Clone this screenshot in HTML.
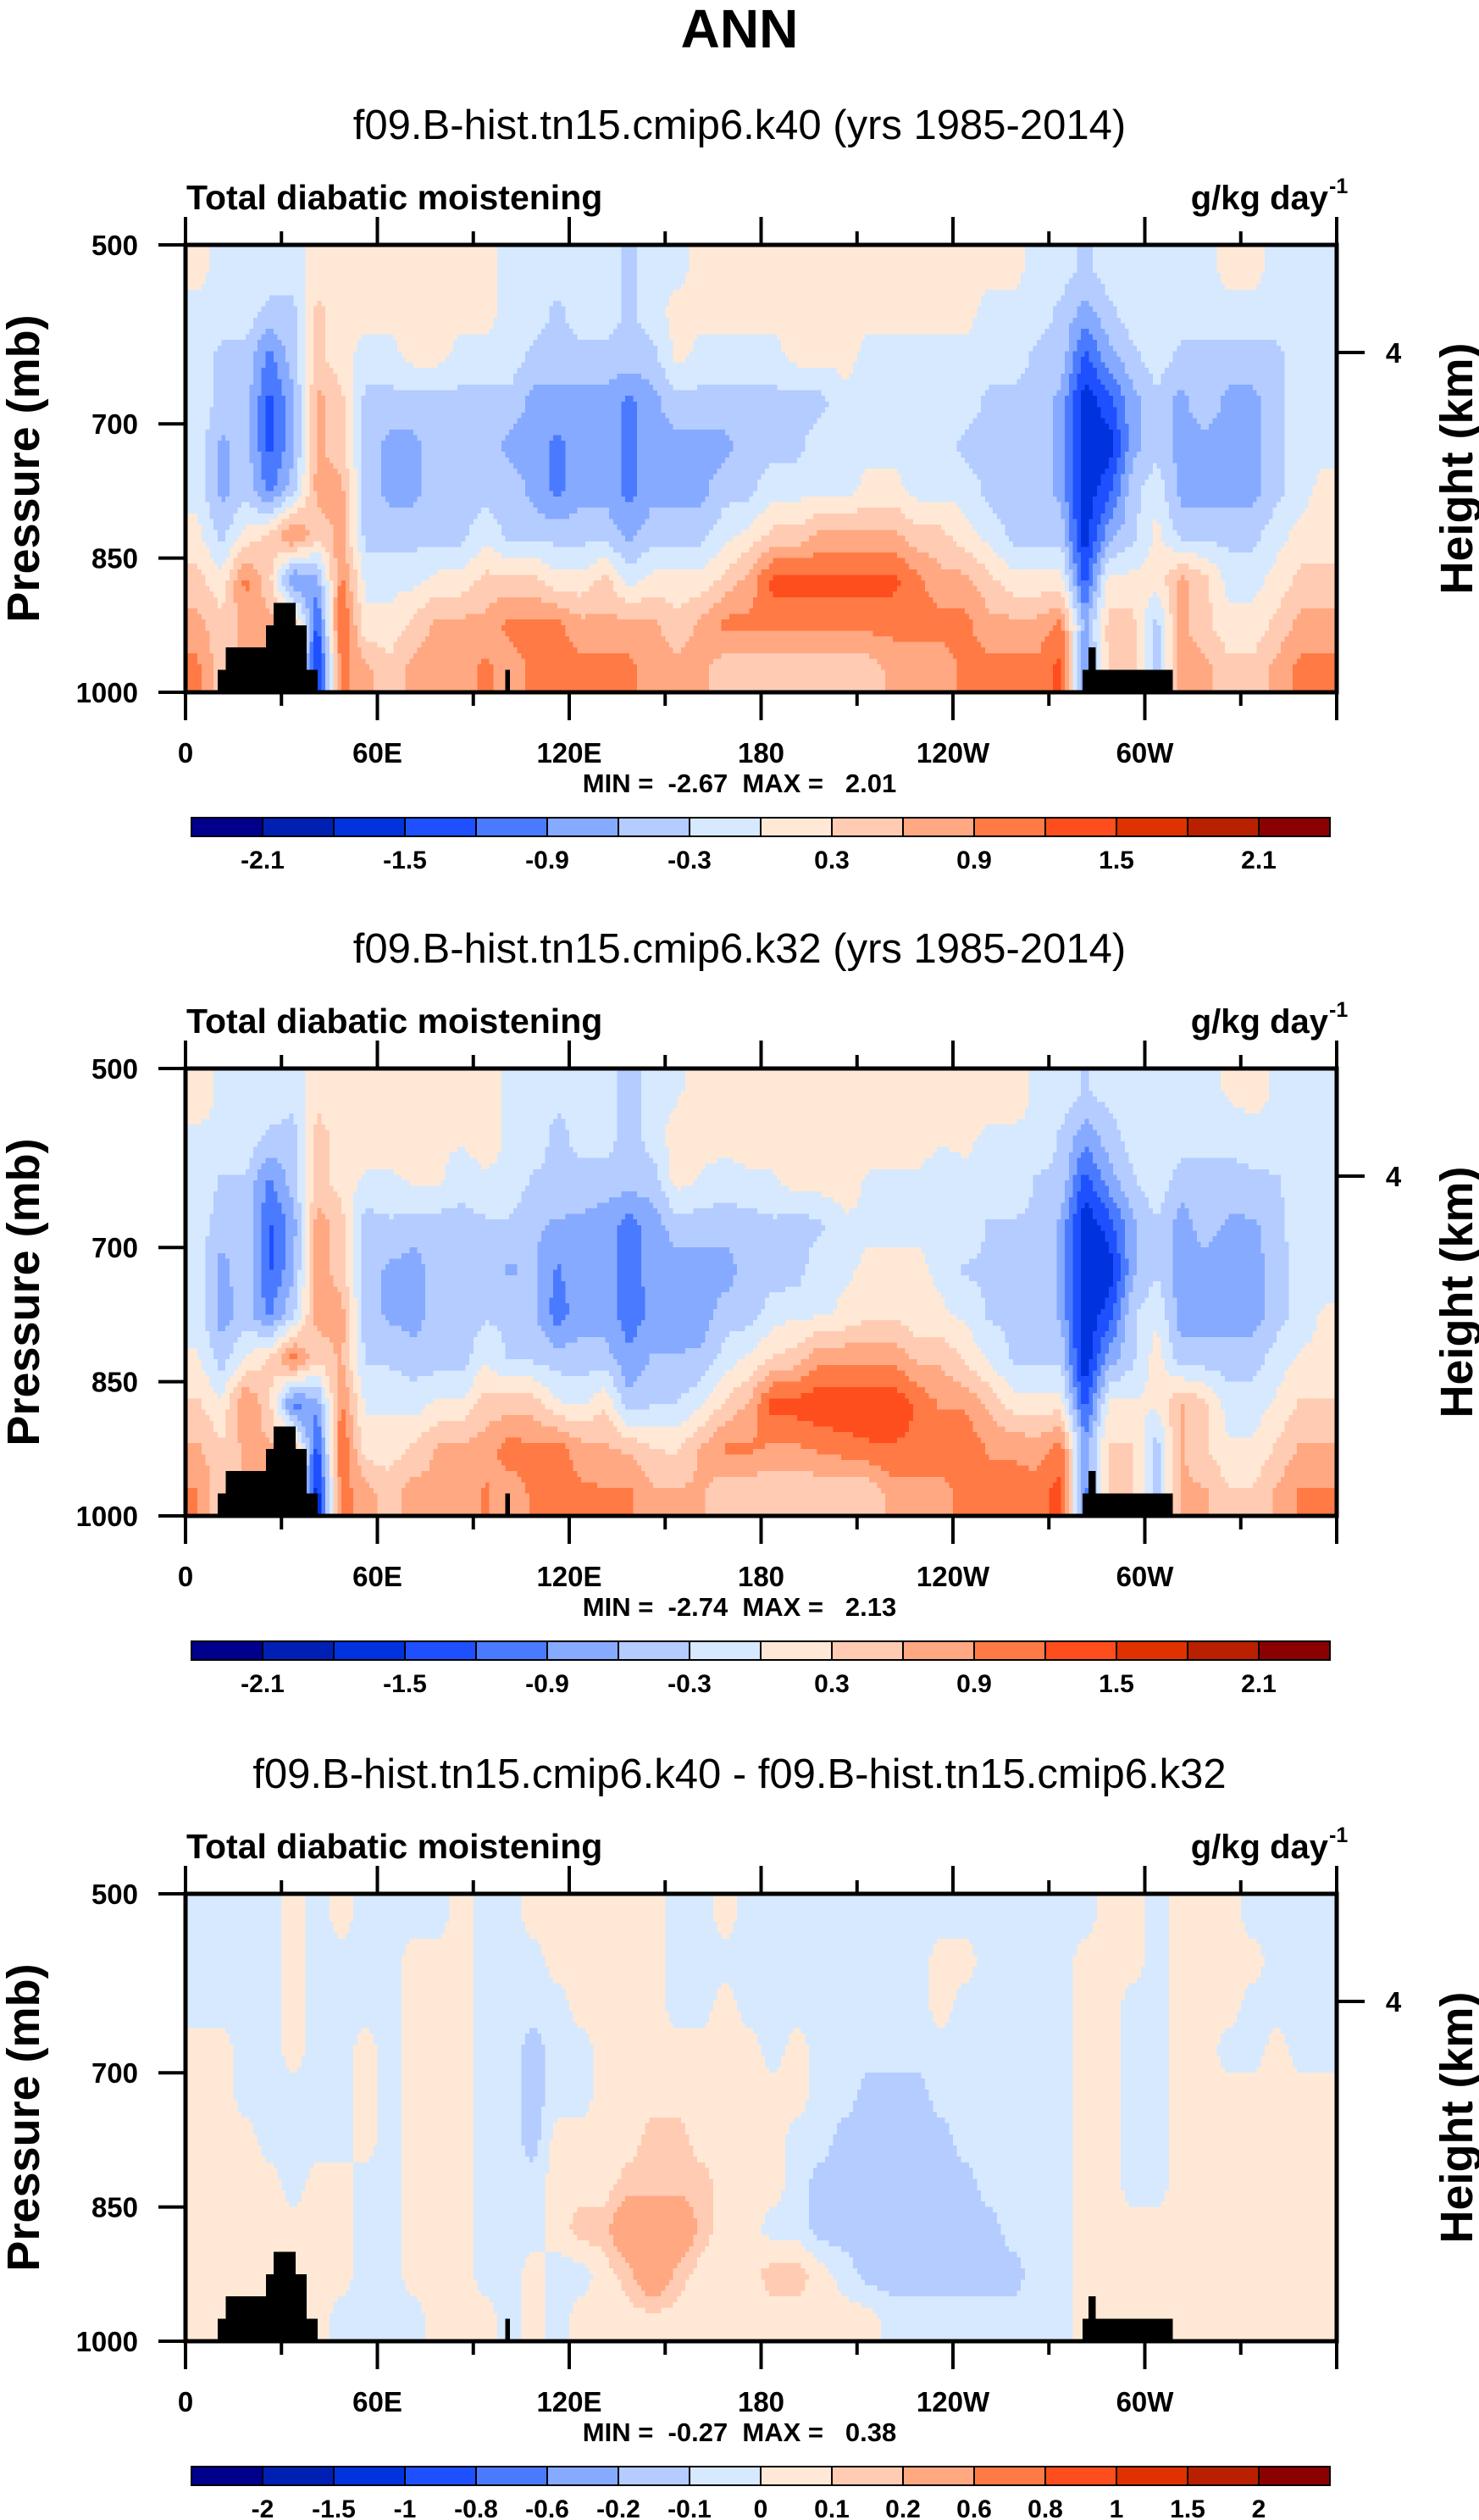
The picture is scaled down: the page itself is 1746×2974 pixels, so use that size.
<!DOCTYPE html>
<html>
<head>
<meta charset="utf-8">
<style>
html,body{margin:0;padding:0;background:#fff;}
svg{display:block;}
text{font-family:"Liberation Sans",sans-serif;white-space:pre;}
</style>
</head>
<body>
<svg id="fig" xmlns="http://www.w3.org/2000/svg" width="1746" height="2974" viewBox="0 0 1746 2974">
<text x="873" y="56" text-anchor="middle" font-size="64" font-weight="bold">ANN</text>
</svg>
<script>
// ---- data ----
const lonEdges = [0,7.5,15,22.5,30,37.5,45,52.5,60,67.5,75,82.5,90,97.5,105,112.5,120,127.5,135,142.5,150,157.5,165,172.5,180,187.5,195,202.5,210,217.5,225,232.5,240,247.5,255,262.5,270,277.5,285,292.5,300,307.5,315,322.5,330,337.5,345,352.5,360];
const presEdges = [500,550,600,650,700,750,800,850,900,950,1000];
// k40 field, one array per longitude column, top (500mb) to bottom (1000mb)
const k40Cols = [
[0.1,-0.1,-0.1,-0.1,-0.1,-0.1,0.1,0.4,0.7,1.0],
[-0.1,-0.1,-0.4,-0.4,-0.7,-0.7,-0.4,0.1,0.4,0.4],
[-0.1,-0.1,-0.4,-0.4,-0.4,-0.4,0.1,1.0,0.7,0.7],
[-0.1,-0.4,-1.0,-1.3,-1.3,-1.0,0.4,0.4,0.7,0.7],
[-0.1,-0.4,-0.4,-0.7,-0.7,-0.4,1.0,-1.0,0.7,0.7],
[0.1,0.4,0.4,0.7,0.7,0.7,0.4,-0.7,-1.3,-1.7],
[0.1,0.1,0.1,0.4,0.4,0.7,0.7,1.0,1.3,1.0],
[0.1,0.1,-0.1,-0.4,-0.4,-0.4,-0.4,-0.1,0.1,0.7],
[0.1,0.1,-0.1,-0.4,-0.7,-0.7,-0.4,-0.1,0.1,0.4],
[0.1,0.1,0.1,-0.4,-0.7,-0.7,-0.4,-0.1,0.4,0.7],
[0.1,0.1,0.1,-0.4,-0.4,-0.4,-0.4,0.1,0.7,0.7],
[0.1,0.1,-0.1,-0.4,-0.4,-0.4,-0.4,0.1,0.7,0.7],
[0.1,0.1,-0.1,-0.4,-0.4,-0.4,-0.1,0.4,0.7,1.0],
[-0.1,-0.1,-0.1,-0.4,-0.7,-0.4,-0.4,0.4,1.0,0.7],
[-0.1,-0.1,-0.4,-0.7,-0.7,-0.7,-0.4,0.4,1.0,1.0],
[-0.1,-0.4,-0.4,-0.7,-1.0,-1.0,-0.4,0.1,1.0,1.0],
[-0.1,-0.1,-0.4,-0.7,-0.7,-0.7,-0.4,0.1,0.7,1.0],
[-0.1,-0.1,-0.4,-0.7,-0.7,-0.7,-0.4,0.4,0.7,1.0],
[-0.4,-0.4,-0.4,-1.0,-1.0,-1.0,-0.7,-0.1,0.7,1.0],
[-0.1,-0.1,-0.4,-0.7,-0.7,-0.7,-0.4,0.1,0.7,0.7],
[-0.1,0.1,0.1,-0.4,-0.7,-0.7,-0.4,0.1,0.4,0.7],
[0.1,0.1,-0.1,-0.4,-0.7,-0.7,-0.4,0.1,0.7,0.7],
[0.1,0.1,-0.1,-0.4,-0.7,-0.4,-0.1,0.4,1.0,0.4],
[0.1,0.1,-0.1,-0.4,-0.4,-0.4,0.1,0.7,1.0,0.4],
[0.1,0.1,-0.1,-0.4,-0.4,-0.1,0.4,1.3,1.0,0.4],
[0.1,0.1,0.1,-0.4,-0.4,-0.1,0.4,1.3,1.0,0.4],
[0.1,0.1,0.1,-0.4,-0.1,-0.1,0.7,1.3,1.0,0.4],
[0.1,0.1,0.1,-0.1,-0.1,-0.1,0.7,1.3,1.0,0.4],
[0.1,0.1,-0.1,-0.1,-0.1,0.1,0.7,1.3,1.0,0.4],
[0.1,0.1,-0.1,-0.1,-0.1,0.1,0.7,1.3,1.0,0.7],
[0.1,0.1,-0.1,-0.1,-0.1,-0.1,0.4,1.0,1.0,0.7],
[0.1,0.1,-0.1,-0.1,-0.1,-0.1,0.4,0.7,1.0,0.7],
[0.1,0.1,-0.1,-0.1,-0.4,-0.1,0.1,0.7,1.0,1.0],
[0.1,-0.1,-0.1,-0.4,-0.4,-0.4,-0.1,0.4,0.7,1.0],
[0.1,-0.1,-0.1,-0.4,-0.4,-0.4,-0.4,0.1,0.7,1.0],
[-0.1,-0.1,-0.4,-0.4,-0.4,-0.4,-0.4,0.1,0.7,1.0],
[-0.1,-0.4,-0.4,-0.7,-0.7,-0.7,-0.4,0.1,1.0,1.3],
[-0.4,-0.7,-1.3,-1.7,-1.7,-1.7,-1.7,-1.3,-0.7,-1.0],
[-0.1,-0.4,-0.7,-1.3,-1.7,-1.3,-0.7,0.1,0.4,0.4],
[-0.1,-0.1,-0.4,-0.7,-0.7,-0.4,-0.4,0.1,0.4,0.4],
[-0.1,-0.1,-0.1,-0.4,-0.4,-0.1,0.1,0.1,-0.4,-0.4],
[-0.1,-0.1,-0.4,-0.7,-0.7,-0.7,-0.4,0.7,0.7,0.7],
[-0.1,-0.1,-0.4,-0.4,-0.7,-0.7,-0.4,0.4,0.4,0.7],
[0.1,-0.1,-0.4,-0.7,-0.7,-0.7,-0.4,-0.1,0.1,0.4],
[0.1,-0.1,-0.4,-0.7,-0.7,-0.7,-0.4,-0.1,0.1,0.4],
[-0.1,-0.1,-0.4,-0.4,-0.4,-0.4,-0.1,0.1,0.4,0.7],
[-0.1,-0.1,-0.1,-0.1,-0.1,-0.1,0.1,0.4,0.7,1.0],
[-0.1,-0.1,-0.1,-0.1,-0.1,0.1,0.1,0.4,0.7,1.0]
];
// difference field k40 - k32
const diffCols = [
[-.05,-.05,-.05,.05,.05,.05,.05,.05,.05,.05],
[-.05,-.05,-.05,.05,.05,.05,.05,.05,.05,.05],
[-.05,-.05,-.05,-.05,-.05,.05,.05,.05,.05,.05],
[-.05,-.05,-.05,-.05,-.05,-.05,.05,.05,.05,.05],
[.05,.05,.05,.05,-.05,-.05,-.05,.05,.05,.05],
[-.05,-.05,-.05,-.05,-.05,-.05,.05,.05,.05,.05],
[.05,-.05,-.05,-.05,-.05,-.05,.05,.05,.05,-.05],
[-.05,-.05,-.05,.05,.05,.05,-.05,-.05,-.05,-.05],
[-.05,-.05,-.05,-.05,-.05,-.05,-.05,-.05,-.05,-.05],
[-.05,.05,.05,.05,.05,.05,.05,.05,.05,-.05],
[-.05,.05,.05,.05,.05,.05,.05,.05,.05,.05],
[.05,.05,.05,.05,.05,.05,.05,.05,.05,.05],
[-.05,-.05,-.05,-.05,-.05,-.05,-.05,-.05,-.05,.05],
[-.05,-.05,-.05,-.05,-.05,-.05,-.05,-.05,-.05,-.05],
[.05,-.05,-.05,-.15,-.15,-.15,-.05,-.05,.05,.05],
[.05,.05,-.05,-.05,-.05,.05,.05,.05,-.05,-.05],
[.05,.05,.05,-.05,-.05,.05,.05,.15,-.05,.05],
[.05,.05,.05,.05,.05,.05,.05,.15,.05,.05],
[.05,.05,.05,.05,.05,.05,.15,.4,.15,.05],
[.05,.05,.05,.05,.05,.15,.15,.4,.4,.05],
[-.05,-.05,-.05,.05,.05,.15,.15,.4,.15,.05],
[-.05,-.05,-.05,.05,.05,.05,.15,.15,.05,.05],
[.05,-.05,.05,.05,.05,.05,.05,.05,.05,.05],
[-.05,-.05,-.05,.05,.05,.05,.05,.05,.05,.05],
[-.05,-.05,-.05,-.05,.05,.05,.05,-.05,.15,.05],
[-.05,-.05,-.05,.05,.05,-.05,-.05,-.05,.15,.05],
[-.05,-.05,-.05,-.05,-.05,-.05,-.15,-.15,.05,.05],
[-.05,-.05,-.05,-.05,-.05,-.15,-.15,-.15,-.05,.05],
[-.05,-.05,-.05,-.05,-.15,-.15,-.15,-.15,-.15,.05],
[-.05,-.05,-.05,-.05,-.15,-.15,-.15,-.15,-.15,-.05],
[-.05,-.05,-.05,-.05,-.15,-.15,-.15,-.15,-.15,-.05],
[-.05,.05,.05,-.05,-.05,-.15,-.15,-.15,-.15,-.05],
[-.05,.05,-.05,-.05,-.05,-.05,-.15,-.15,-.15,-.05],
[-.05,-.05,-.05,-.05,-.05,-.05,-.05,-.15,-.15,-.05],
[-.05,-.05,-.05,-.05,-.05,-.05,-.05,-.05,-.15,-.05],
[-.05,-.05,-.05,-.05,-.05,-.05,-.05,-.05,-.05,-.05],
[-.05,-.05,-.05,-.05,-.05,-.05,-.05,-.05,-.05,-.05],
[-.05,.05,.05,.05,.05,.05,.05,.05,.05,.05],
[.05,.05,.05,.05,.05,.05,.05,.05,.05,.05],
[.05,.05,-.05,-.05,-.05,-.05,-.05,.05,.05,.05],
[-.05,-.05,-.05,-.05,-.05,-.05,-.05,.05,.05,.05],
[.05,.05,.05,.05,.05,.05,.05,.05,.05,.05],
[.05,.05,.05,.05,.05,.05,.05,.05,.05,.05],
[.05,.05,.05,-.05,.05,.05,.05,.05,.05,.05],
[-.05,.05,-.05,-.05,.05,.05,.05,.05,.05,.05],
[-.05,-.05,-.05,.05,.05,.05,.05,.05,.05,.05],
[-.05,-.05,-.05,-.05,.05,.05,.05,.05,.05,.05],
[-.05,-.05,-.05,-.05,.05,.05,.05,.05,.05,.05]
];
// topography (surface pressure) segments
const topoStart = [10,12.6,25.2,27.5,34.4,37.9,100,280.5,282.4,284.7];
const topoEnd   = [12.6,25.2,27.5,34.4,37.9,41.3,101.5,282.4,284.7,308.8];
const topoPs    = [975,950,925,900,925,975,975,975,950,975];
// levels and colours
const levelsAbs  = [-2.1,-1.8,-1.5,-1.2,-0.9,-0.6,-0.3,0,0.3,0.6,0.9,1.2,1.5,1.8,2.1];
const levelsDiff = [-2,-1.5,-1,-0.8,-0.6,-0.2,-0.1,0,0.1,0.2,0.6,0.8,1,1.5,2];
const absLabels  = ["","-2.1","","-1.5","","-0.9","","-0.3","","0.3","","0.9","","1.5","","2.1",""];
const diffLabels = ["","-2","-1.5","-1","-0.8","-0.6","-0.2","-0.1","0","0.1","0.2","0.6","0.8","1","1.5","2",""];
const palette = ["#00008c","#0020b4","#0033de","#1e50ff","#4a7aff","#86aaff","#b4ccff","#d6e9ff","#ffe9d6","#ffccb3","#ffa882","#ff7a45","#ff4e1e","#e03200","#b82000","#8b0000"];
const xTickLabels = ["0","60E","120E","180","120W","60W"];
const xTickLons = [0,60,120,180,240,300];
const yTickLabels = ["500","700","850","1000"];
const yTickVals = [500,700,850,1000];
const panelTitles = ["f09.B-hist.tn15.cmip6.k40 (yrs 1985-2014)","f09.B-hist.tn15.cmip6.k32 (yrs 1985-2014)","f09.B-hist.tn15.cmip6.k40 - f09.B-hist.tn15.cmip6.k32"];
const panelStats = ["MIN =  -2.67  MAX =   2.01","MIN =  -2.74  MAX =   2.13","MIN =  -0.27  MAX =   0.38"];
const k32Cols = k40Cols.map((col,i)=>col.map((v,j)=>+(v - diffCols[i][j]).toFixed(2)));

// ---- drawing ----
const NS="http://www.w3.org/2000/svg";
const svg=document.getElementById('fig');
const PX0=219, PX1=1578, PH=528;
const offsets=[0,972,1946];
function xs(lon){return PX0+lon/360*(PX1-PX0);}
function ys(p,top){return top+(p-500)/500*PH;}
function mk(tag,attrs,parent){const e=document.createElementNS(NS,tag);for(const k in attrs)e.setAttribute(k,attrs[k]);(parent||svg).appendChild(e);return e;}
function colorIdx(v,lev){let k=0;while(k<lev.length&&v>=lev[k])k++;return k;}
// bilinear sample of the gridded field at (lon, p) using cell centres
function sample(cols,lon,p){
  const nc=cols.length, nr=cols[0].length;
  let fx=(lon-(lonEdges[1]-lonEdges[0])/2)/(lonEdges[1]-lonEdges[0]);
  let fy=(p-(presEdges[0]+presEdges[1])/2)/(presEdges[1]-presEdges[0]);
  fx=Math.max(0,Math.min(nc-1,fx)); fy=Math.max(0,Math.min(nr-1,fy));
  const i0=Math.floor(fx), j0=Math.floor(fy), i1=Math.min(nc-1,i0+1), j1=Math.min(nr-1,j0+1);
  const ax=fx-i0, ay=fy-j0;
  const a=cols[i0][j0]*(1-ax)+cols[i1][j0]*ax, b=cols[i0][j1]*(1-ax)+cols[i1][j1]*ax;
  return a*(1-ay)+b*ay;
}

function drawPanel(pi,cols,lev,labels){
  const off=offsets[pi], top=289+off, bot=top+PH;
  const g=mk('g',{});
  
  
  let t=mk('text',{x:873,y:164+off,'text-anchor':'middle','font-size':49},g);
  t.textContent=panelTitles[pi];
  
  
  t=mk('text',{x:220,y:247+off,'font-size':41,'font-weight':'bold'},g);
  t.textContent='Total diabatic moistening';
  
  
  t=mk('text',{x:1568,y:247+off,'text-anchor':'end','font-size':40,'font-weight':'bold'},g);
  t.textContent='g/kg day';
  
  
  t=mk('text',{x:1569,y:228+off,'font-size':25,'font-weight':'bold'},g);
  t.textContent='-1';
  
  
  // filled contours from the grid
  const cg=mk('g',{'shape-rendering':'crispEdges'},g);
  
  
  const dl=1.25, dp=6.25;
  for(let p=500;p<1000-1e-6;p+=dp){
    let runStart=0, runIdx=-1;
    const y0=ys(p,top), y1=ys(p+dp,top);
    for(let lon=0;lon<=360+1e-6;lon+=dl){
      const idx = lon<360-1e-6 ? colorIdx(sample(cols,lon+dl/2,p+dp/2),lev) : -2;
      if(idx!==runIdx){
        if(runIdx>=0){
          const r=mk('rect',{x:xs(runStart),y:y0,width:xs(lon)-xs(runStart)+0.5,height:y1-y0+0.5,fill:palette[runIdx]},cg);
          
          
        }
        runStart=lon; runIdx=idx;
      }
    }
  }
  for(let k=0;k<topoStart.length;k++){
    const y0=ys(topoPs[k],top);
    const r=mk('rect',{x:xs(topoStart[k]),y:y0,width:xs(topoEnd[k])-xs(topoStart[k]),height:bot-y0,fill:'#000'},cg);
    
    
  }
  // frame
  const fr=mk('rect',{x:PX0,y:top,width:PX1-PX0,height:PH,fill:'none',stroke:'#000','stroke-width':5},g);
  
  
  for(let lon=0;lon<=360;lon+=30){
    const major=lon%60===0, L=major?33:16, x=xs(lon);
    let l=mk('line',{x1:x,x2:x,y1:bot,y2:bot+L,stroke:'#000','stroke-width':4},g);
    
    
    l=mk('line',{x1:x,x2:x,y1:top,y2:top-L,stroke:'#000','stroke-width':4},g);
    
    
  }
  for(let k=0;k<xTickLons.length;k++){
    t=mk('text',{x:xs(xTickLons[k]),y:900+off,'text-anchor':'middle','font-size':33,'font-weight':'bold'},g);
    t.textContent=xTickLabels[k];
    
    
  }
  for(let k=0;k<yTickVals.length;k++){
    const y=ys(yTickVals[k],top);
    const l=mk('line',{x1:PX0,x2:PX0-32,y1:y,y2:y,stroke:'#000','stroke-width':4},g);
    
    
    t=mk('text',{x:163,y:y+12,'text-anchor':'end','font-size':33,'font-weight':'bold'},g);
    t.textContent=yTickLabels[k];
    
    
  }
  let l=mk('line',{x1:PX1,x2:PX1+33,y1:416+off,y2:416+off,stroke:'#000','stroke-width':4},g);
  
  
  t=mk('text',{x:1645,y:428+off,'text-anchor':'middle','font-size':33,'font-weight':'bold'},g);
  t.textContent='4';
  
  
  const cy=top+PH/2;
  t=mk('text',{x:0,y:0,'text-anchor':'middle','font-size':54,'font-weight':'bold',transform:'translate(46,'+cy+') rotate(-90)'},g);
  t.textContent='Pressure (mb)';
  
  
  t=mk('text',{x:0,y:0,'text-anchor':'middle','font-size':54,'font-weight':'bold',transform:'translate(1738,'+cy+') rotate(-90)'},g);
  t.textContent='Height (km)';
  
  
  t=mk('text',{x:873,y:935+off,'text-anchor':'middle','font-size':31,'font-weight':'bold'},g);
  t.textContent=panelStats[pi];
  
  
  const cb=mk('g',{},g);
  
  
  const bw=84, bx=226, by=965+off, bh=22;
  for(let k=0;k<palette.length;k++){
    const r=mk('rect',{x:bx+k*bw,y:by,width:bw,height:bh,fill:palette[k],stroke:'#000','stroke-width':2},cb);
    
    
  }
  for(let k=0;k<labels.length;k++){
    if(!labels[k])continue;
    t=mk('text',{x:bx+k*bw,y:1025+off,'text-anchor':'middle','font-size':30,'font-weight':'bold'},cb);
    t.textContent=labels[k];
    
    
  }
}
drawPanel(0,k40Cols,levelsAbs,absLabels);
drawPanel(1,k32Cols,levelsAbs,absLabels);
drawPanel(2,diffCols,levelsDiff,diffLabels);
</script>
</body>
</html>
